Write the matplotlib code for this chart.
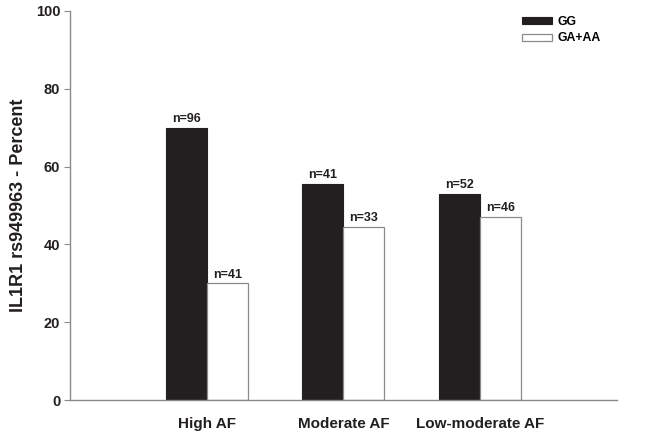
import numpy as np
import matplotlib
matplotlib.use('Agg')
import matplotlib.pyplot as plt

# Data
categories = ['High AF', 'Moderate AF', 'Low-moderate AF']
gg_pct = [70.0, 55.5, 53.0]
ga_aa_pct = [30.0, 44.5, 47.0]
gg_n = ['n=96', 'n=41', 'n=52']
ga_aa_n = ['n=41', 'n=33', 'n=46']

plt.rcParams['font.family'] = ['Liberation Sans', 'DejaVu Sans']
plt.rcParams['font.weight'] = 'bold'

fig = plt.figure(figsize=(6.45, 4.34), dpi=100)
ax = fig.add_axes([0.1085, 0.0783, 0.848, 0.8964])

x = np.arange(len(categories))
w = 0.3
axis_col = '#8a8a8a'
ink = '#231f20'

b1 = ax.bar(x - w / 2, gg_pct, w, color=ink, edgecolor=ink,
            linewidth=0.8, label='GG')
b2 = ax.bar(x + w / 2, ga_aa_pct, w, color='white', edgecolor=axis_col,
            linewidth=0.9, label='GA+AA')

# n labels on top of the bars
for bars, labels in ((b1, gg_n), (b2, ga_aa_n)):
    for rect, txt in zip(bars, labels):
        ax.text(rect.get_x() + rect.get_width() / 2, rect.get_height() + 0.7, txt,
                ha='center', va='bottom', fontsize=9, fontweight='bold', color=ink)

ax.set_xlim(-1.0, 3.0)
ax.set_ylim(0, 100)
ax.set_yticks([0, 20, 40, 60, 80, 100])
ax.set_xticks(x)
ax.set_xticklabels(categories)

ax.spines['top'].set_visible(False)
ax.spines['right'].set_visible(False)
for s in ('left', 'bottom'):
    ax.spines[s].set_color(axis_col)
    ax.spines[s].set_linewidth(1.0)

ax.tick_params(axis='y', direction='out', length=4, color=axis_col,
               labelsize=10.5, pad=3, labelcolor=ink)
ax.tick_params(axis='x', length=0, labelsize=11, pad=12, labelcolor=ink)
for lab in ax.get_xticklabels() + ax.get_yticklabels():
    lab.set_fontweight('bold')

ax.set_ylabel('IL1R1 rs949963 - Percent', fontsize=13, fontweight='bold',
              color=ink, labelpad=6)

leg = ax.legend(loc='upper left', bbox_to_anchor=(0.807, 1.015), frameon=False,
                fontsize=8.8, handlelength=2.4, handleheight=0.5,
                handletextpad=0.5, labelspacing=0.35)
for t in leg.get_texts():
    t.set_fontweight('bold')

fig.savefig('out.png', dpi=100)
